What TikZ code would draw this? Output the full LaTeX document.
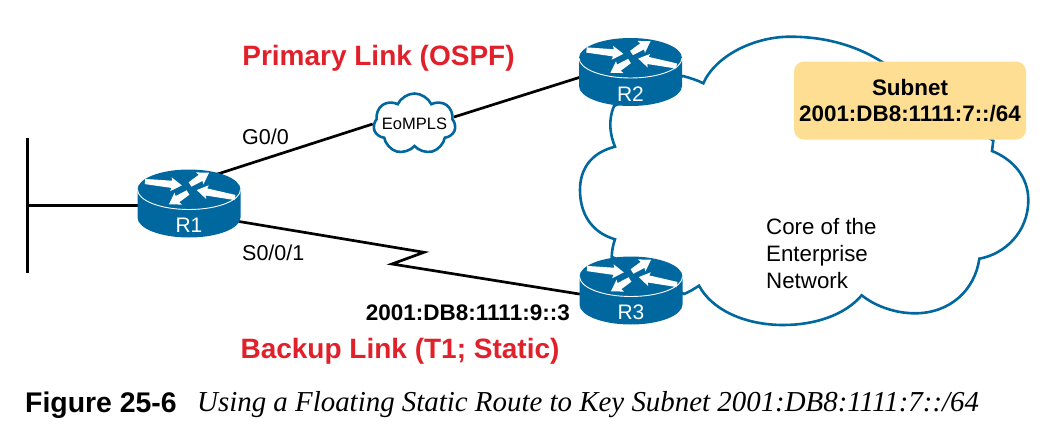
\documentclass[tikz,border=0pt]{standalone}
\usepackage{fontspec}
\setmainfont{Liberation Sans}
\newfontfamily\captionserif{Liberation Serif}
\usepackage{xcolor}
\usepackage{tikz}
\usetikzlibrary{shapes.geometric, shapes.symbols}
\definecolor{routerblue}{HTML}{00679F}
\definecolor{linkred}{HTML}{E0202A}
\definecolor{subnetfill}{HTML}{FDDE92}
\newcommand{\pxfont}[2]{\fontsize{#1}{#2}\selectfont}
\pgfdeclarelayer{links}
\pgfsetlayers{links,main}

% router body with its white rim, four arrows and name
\newcommand{\routernode}[2]{%
  \node[router] (#1) at (#2) {};
  \begin{scope}[shift={(#1.center)}]
    \fill[routerblue] (-51.5,-14) arc[start angle=180, end angle=0, x radius=51.5pt, y radius=20pt]
      -- (51.5,14) arc[start angle=0, end angle=-180, x radius=51.5pt, y radius=20pt] -- cycle;
    \draw[white, line width=0.9pt] (-51.5,-14) arc[start angle=180, end angle=360, x radius=51.5pt, y radius=20pt];
    \foreach \ax/\ay/\arot/\alen in {-44/-22/-6/37, 1/-19/32/22.5, 46/-6/169/39, -1/-11/212/22.5} {
      \begin{scope}[shift={(\ax,\ay)}, rotate=\arot]
        \fill[white] (0,-2.6) -- (\alen-10,-3.6) -- (\alen-11,-7) -- (\alen,0)
          -- (\alen-11,7) -- (\alen-10,3.6) -- (0,2.6) -- cycle;
      \end{scope}
    }
    \node[routertag] (#1tag) at (0,22) {#1};
  \end{scope}
}

\begin{document}
\begin{tikzpicture}[
  x=1pt, y=-1pt,
  every node/.style={align=center},
  routertag/.style={text=white, font=\pxfont{21}{21}, inner sep=0pt},
  router/.style={ellipse, minimum width=103pt, minimum height=68pt, inner sep=0pt, outer sep=0pt},
  wan/.style={cloud, cloud puffs=7, cloud puff arc=130, aspect=1.35, draw=routerblue, fill=white,
              line width=2.6pt, minimum width=82pt, minimum height=61pt, inner sep=0pt},
  subnetbox/.style={rectangle, rounded corners=10pt, fill=subnetfill, inner sep=0pt,
                    minimum width=232pt, minimum height=78pt, font=\bfseries\pxfont{22.4}{26.5}},
  wall/.style={rectangle, fill=black, inner sep=0pt, minimum width=2.8pt, minimum height=135pt},
  linktitle/.style={text=linkred, font=\bfseries\pxfont{28}{28}},
  iflabel/.style={font=\pxfont{21.5}{21.5}},
  addrlabel/.style={font=\bfseries\pxfont{22.5}{22.5}},
  link/.style={line width=2.7pt, line join=miter},
  coreline/.style={draw=routerblue, line width=2.6pt, line join=miter}
]
\useasboundingbox (0,0) rectangle (1060,431);

% --- Routers and LAN ---
\routernode{R1}{189,203.5}
\routernode{R2}{630.5,72}
\routernode{R3}{631,290.5}
\node[wall] (lan) at (27.5,205.5) {};

% --- Small cloud on the primary link ---
\node[wan, label={[font=\pxfont{16.5}{16.5}]center:EoMPLS}] (eompls) at (414.5,124) {};

% --- Subnet box ---
\node[subnetbox] (subnet) at (910,100.5) {Subnet\\2001:DB8:1111:7::/64};

% --- Texts ---
\node[linktitle] (primary) at (378.5,58) {Primary Link (OSPF)};
\node[linktitle] (backup) at (400,351) {Backup Link (T1; Static)};
\node[iflabel, anchor=west, inner sep=0pt] (g00) at (242,137) {G0/0};
\node[iflabel, anchor=west, inner sep=0pt] (s001) at (242,253) {S0/0/1};
\node[addrlabel, anchor=east, inner sep=0pt] (r3addr) at (570,313) {2001:DB8:1111:9::3};
\node[font=\pxfont{22.3}{27}, align=left, anchor=north west, inner sep=0pt] (core) at (766,218) {Core of the\\Enterprise\\Network};

% --- Caption ---
\node[font=\bfseries\pxfont{28.4}{28.4}, anchor=west, inner sep=0pt] (figno) at (25,405) {Figure 25-6};
\node[font=\captionserif\itshape\pxfont{28.9}{28.9}, anchor=west, inner sep=0pt] (figtext) at (197,405) {Using a Floating Static Route to Key Subnet 2001:DB8:1111:7::/64};

% --- Links, below the nodes ---
\begin{pgfonlayer}{links}
  \coordinate (zigtop) at (424,252.3);
  \coordinate (zigbot) at (392,264);
  \draw[link] (lan) -- (lan -| R1.center);
  \draw[link] (R1.47) -- (eompls.west);
  \draw[link] (eompls.10) -- (R2.186);
  \draw[link] (R1.339) -- (zigtop) -- (zigbot) -- (R3.184);

  % --- Core cloud ---
  \draw[coreline] (683,76) .. controls (690,78) and (697,80) .. (703.3,83.3)
    .. controls (716,55) and (755,36.7) .. (790,36.7)
    .. controls (830,36.7) and (860,48) .. (881.7,61.7)
    -- (993.3,140.7) -- (992,151)
    .. controls (1012,159) and (1028.3,176) .. (1028.3,200)
    .. controls (1028.3,232) and (1005,254) .. (979.3,258.7)
    .. controls (975,290) and (950,313.3) .. (915,313.3)
    .. controls (895,313.3) and (875,306) .. (861.7,295.3)
    .. controls (845,315) and (815,325) .. (783.3,325)
    .. controls (745,325) and (712,310) .. (699,285.7)
    .. controls (694,289) and (689,292) .. (684,294)
    -- (611.7,256.7) .. controls (612,250) and (613,245) .. (615,239.3)
    .. controls (590,232) and (580,212) .. (580,190)
    .. controls (580,170) and (590,153) .. (615,146.7)
    .. controls (610,135) and (608,120) .. (614,106) -- cycle;
\end{pgfonlayer}

\end{tikzpicture}
\end{document}
